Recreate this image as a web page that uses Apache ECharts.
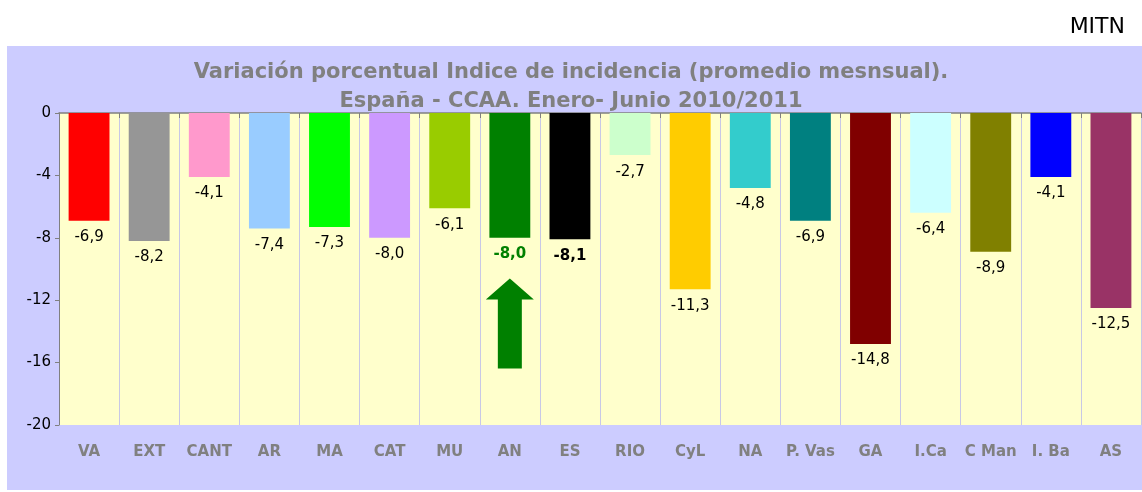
<!DOCTYPE html>
<html>
<head>
<meta charset="utf-8">
<script src="https://cdn.jsdelivr.net/npm/echarts@6/dist/echarts.min.js"></script>
<style>
html,body{margin:0;padding:0;background:#fff;}
#main{width:1142px;height:492px;}
</style>
</head>
<body>
<div id="main"></div>
<script>
// datos
var regiones=['VA','EXT','CANT','AR','MA','CAT','MU','AN','ES','RIO','CyL','NA','P. Vas','GA','I.Ca','C Man','I. Ba','AS'];
var variacion=[-6.9,-8.2,-4.1,-7.4,-7.3,-8.0,-6.1,-8.0,-8.1,-2.7,-11.3,-4.8,-6.9,-14.8,-6.4,-8.9,-4.1,-12.5];
var colores=['#FF0000','#969696','#FF99CC','#99CCFF','#00FF00','#CC99FF','#99CC00','#008000','#000000','#CCFFCC','#FFCC00','#33CCCC','#008080','#800000','#CCFFFF','#808000','#0000FF','#993366'];
var yTicks=[0,-4,-8,-12,-16,-20];
// flecha sobre AN
var flecha=[['AN',-13.5]];

var barData=[];
for(var i=0;i<regiones.length;i++){
  var d={value:variacion[i],itemStyle:{color:colores[i]}};
  if(regiones[i]=='AN') d.label={color:'#008000',fontWeight:'bold'};
  if(regiones[i]=='ES') d.label={color:'#000000',fontWeight:'bold'};
  barData.push(d);
}

var myChart=echarts.init(document.getElementById('main'));
var option={
  backgroundColor:'#ffffff',
  animation:false,
  textStyle:{fontFamily:'DejaVu Sans'},
  graphic:[
    {type:'rect',left:7,top:46,shape:{width:1135,height:444},style:{fill:'#CCCCFF'},z:-10},
    {type:'text',right:17,top:16,style:{text:'MITN',fontSize:22,fill:'#000',fontFamily:'DejaVu Sans'}}
  ],
  title:{
    text:'Variación porcentual Indice de incidencia (promedio mesnsual).\nEspaña - CCAA. Enero- Junio 2010/2011',
    left:'center',top:53,
    textStyle:{fontSize:21,fontWeight:'bold',color:'#808080',lineHeight:29,fontFamily:'DejaVu Sans'}
  },
  grid:{left:59,right:1,top:113,bottom:67,show:true,backgroundColor:'#FFFFCC',borderWidth:0},
  xAxis:[
    {type:'category',data:regiones,position:'bottom',
     axisLine:{show:false},axisTick:{show:false},
     axisLabel:{interval:0,color:'#808080',fontWeight:'bold',fontSize:15,margin:20},
     splitLine:{show:true,interval:0,lineStyle:{color:'#C8C8E6',width:1}}},
    {type:'category',data:regiones,position:'top',
     axisLine:{show:true,onZero:false,lineStyle:{color:'#808080',width:1.5}},
     axisTick:{show:true,interval:0,inside:true,length:5,lineStyle:{color:'#808080'}},
     axisLabel:{show:false},splitLine:{show:false}}
  ],
  yAxis:{type:'value',min:-20,max:0,interval:4,
    axisLine:{show:true,lineStyle:{color:'#808080'}},
    axisTick:{show:true,length:4,lineStyle:{color:'#808080'}},
    axisLabel:{color:'#000',fontSize:15,margin:8,
      formatter:function(v){return yTicks.indexOf(v)>=0?String(v):'';}},
    splitLine:{show:false}
  },
  series:[
    {type:'bar',xAxisIndex:0,data:barData,barWidth:'68%',
     label:{show:true,position:'bottom',distance:9,fontSize:15,color:'#000',
       formatter:function(p){return p.value.toFixed(1).replace('.',',');}}},
    {type:'scatter',xAxisIndex:0,data:flecha,
     symbol:'path://M24,0 L48,21 L36,21 L36,90 L12,90 L12,21 L0,21 Z',
     symbolSize:[48,90],itemStyle:{color:'#008000',opacity:1},z:5}
  ]
};
myChart.setOption(option);
</script>
</body>
</html>
